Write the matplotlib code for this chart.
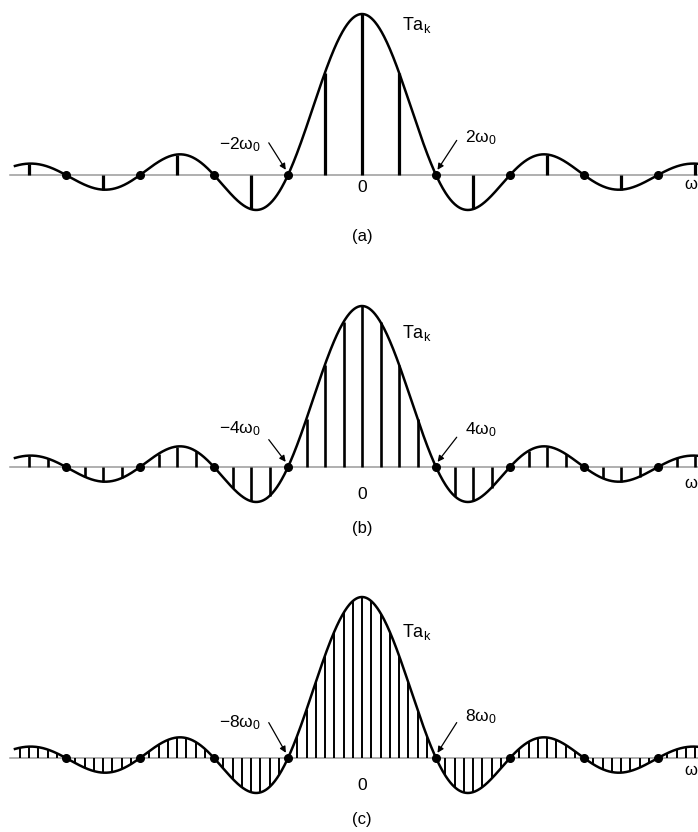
import numpy as np
import matplotlib
matplotlib.use("Agg")
from matplotlib import pyplot as plt

plt.rcParams['font.family'] = ['Liberation Sans', 'DejaVu Sans']
plt.rcParams['mathtext.fontset'] = 'custom'
plt.rcParams['mathtext.rm'] = 'Liberation Sans'
plt.rcParams['mathtext.it'] = 'Liberation Sans'
plt.rcParams['mathtext.default'] = 'regular'

# envelope T*a_k = 2 sin(w T1)/w, normalised: zeros at integer x (x = w T1 / pi)
panel_names = ['(a)', '(b)', '(c)']
samples_per_zero = [2, 4, 8]          # w0 spacing: zero of envelope at 2w0, 4w0, 8w0
zero_labels = ['2', '4', '8']
zero_points = [-4, -3, -2, -1, 1, 2, 3, 4]

# layout (pixels)
W, H = 698, 832
cx, px_unit, py_unit = 362, 74.0, 161.0
axis_rows = [175, 467, 758]
panel_spans = [(0, 265), (272, 560), (565, 832)]
stem_lw = [2.3, 1.9, 1.4]
zero_lab_y = [-0.08, -0.17, -0.17]
tak_y = [0.93, 0.83, 0.78]
lab_y_left = [0.19, 0.24, 0.22]
lab_y_right = [0.235, 0.23, 0.255]
tail_y_left = [0.20, 0.17, 0.22]
tail_y_right = [0.215, 0.185, 0.22]
omega_y = [-0.06, -0.10, -0.075]


def envelope(x):
    return np.sinc(x)


fig = plt.figure(figsize=(W / 100, H / 100), dpi=100)
xmin, xmax = -cx / px_unit, (W - cx) / px_unit

for i in range(3):
    top, bot = panel_spans[i]
    y0 = axis_rows[i]
    ax = fig.add_axes([0, 1 - bot / H, 1, (bot - top) / H])
    ax.set_xlim(xmin, xmax)
    ax.set_ylim((y0 - bot) / py_unit, (y0 - top) / py_unit)
    ax.axis('off')

    # horizontal axis
    ax.plot([-4.76, xmax], [0, 0], color='#9a9a9a', lw=1.1, zorder=1)

    # envelope
    xe = np.linspace(-4.69, xmax, 1200)
    ax.plot(xe, envelope(xe), color='black', lw=1.8, zorder=3)

    # samples
    n = samples_per_zero[i]
    k = np.arange(-int(4.65 * n), int(4.55 * n) + 1)
    xs = k / n
    ys = envelope(xs)
    keep = np.abs(ys) > 1e-9
    ax.vlines(xs[keep], 0, ys[keep], color='black', lw=stem_lw[i], zorder=2)

    # zero crossings
    ax.plot(zero_points, np.zeros(len(zero_points)), 'o', color='black',
            ms=5.5, zorder=4)

    # labels
    ax.text(0.54, tak_y[i], 'T$a_k$', fontsize=13, ha='left', va='center')
    ax.text(0, zero_lab_y[i], '0', fontsize=12.5, ha='center', va='center')
    ax.text(xmax, omega_y[i], '$\\omega$', fontsize=12, ha='right', va='center')
    ax.text(0, -0.385, panel_names[i], fontsize=12, ha='center', va='center')

    z = zero_labels[i]
    ax.text(-1.65, lab_y_left[i], '$-%s\\omega_0$' % z, fontsize=12.5,
            ha='center', va='center')
    ax.text(1.6, lab_y_right[i], '$%s\\omega_0$' % z, fontsize=12.5,
            ha='center', va='center')
    arrow = dict(arrowstyle='-|>', color='black', lw=0.9,
                 shrinkA=0, shrinkB=1, mutation_scale=9)
    ax.annotate('', xy=(-1.02, 0.025), xytext=(-1.26, tail_y_left[i]),
                arrowprops=arrow)
    ax.annotate('', xy=(1.01, 0.025), xytext=(1.28, tail_y_right[i]),
                arrowprops=arrow)

fig.savefig('out.png', dpi=100)
